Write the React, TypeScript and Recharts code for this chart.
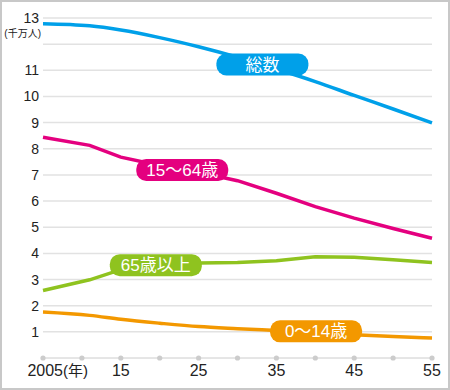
import React from 'react';
import { LineChart, Line, XAxis, YAxis, CartesianGrid, ReferenceDot } from 'recharts';

const years = [2005, 2011, 2015, 2020, 2025, 2030, 2035, 2040, 2045, 2050, 2055];
const total = [12.78, 12.7, 12.54, 12.25, 11.9, 11.5, 11.05, 10.57, 10.04, 9.52, 8.99];
const working = [8.44, 8.13, 7.68, 7.36, 7.1, 6.78, 6.3, 5.79, 5.35, 4.95, 4.58];
const elderly = [2.58, 2.99, 3.38, 3.59, 3.63, 3.65, 3.72, 3.87, 3.85, 3.76, 3.65];
const children = [1.76, 1.63, 1.48, 1.33, 1.2, 1.12, 1.05, 0.98, 0.89, 0.82, 0.76];

const xTicks = [2005, 2010, 2015, 2020, 2025, 2030, 2035, 2040, 2045, 2050, 2055];
const xTickLabels: Record<number, string> = { 2005: '2005', 2015: '15', 2025: '25', 2035: '35', 2045: '45', 2055: '55' };
const yTicks = [1, 2, 3, 4, 5, 6, 7, 8, 9, 10, 11, 12, 13];
const yUnit = '(千万人)';
const xUnit = '(年)';

const BLUE = '#00a0e9';
const PINK = '#e4007f';
const GREEN = '#8fc31f';
const ORANGE = '#f39800';

const seriesLabels = [
  { text: '総数', year: 2033.2, value: 11.22, color: BLUE },
  { text: '15〜64歳', year: 2022.9, value: 7.19, color: PINK },
  { text: '65歳以上', year: 2019.5, value: 3.55, color: GREEN },
  { text: '0〜14歳', year: 2040.1, value: 1.02, color: ORANGE },
];

const data = years.map((y, i) => ({
  year: y,
  total: total[i],
  working: working[i],
  elderly: elderly[i],
  children: children[i],
}));

const FONT = "'Liberation Sans', Arial, 'Noto Sans CJK JP', sans-serif";

const YTick = (props: any) => {
  const { x, y, payload } = props;
  const v = payload.value;
  if (v === 12) return <g />;
  return (
    <g>
      <text x={x} y={y + 5} textAnchor="end" fontSize={14} fill="#222" fontFamily={FONT}>
        {v}
      </text>
      {v === 13 && (
        <text x={x + 2} y={y + 19} textAnchor="end" fontSize={10} fill="#222" fontFamily={FONT}>
          {yUnit}
        </text>
      )}
    </g>
  );
};

const XTick = (props: any) => {
  const { x, y, payload } = props;
  const v = payload.value;
  const label = xTickLabels[v];
  return (
    <g>
      <circle cx={x} cy={y} r={2.6} fill="#cccccc" />
      {label && v === 2005 && (
        <>
          <text x={x + 20} y={y + 18} textAnchor="end" fontSize={16} fill="#222" fontFamily={FONT}>
            {label}
          </text>
          <text x={x + 20} y={y + 18} textAnchor="start" fontSize={15} fill="#222" fontFamily={FONT}>
            {xUnit}
          </text>
        </>
      )}
      {label && v !== 2005 && (
        <text x={x} y={y + 18} textAnchor="middle" fontSize={16} fill="#222" fontFamily={FONT}>
          {label}
        </text>
      )}
    </g>
  );
};

const makePill = (text: string, color: string) => (p: any) => {
  const { cx, cy } = p;
  const w = 92;
  const h = 22;
  return (
    <g>
      <rect x={cx - w / 2} y={cy - h / 2} width={w} height={h} rx={10} ry={10} fill={color} />
      <text x={cx} y={cy + 6} textAnchor="middle" fontSize={17} fill="#fff" fontFamily={FONT}>
        {text}
      </text>
    </g>
  );
};

export default function App() {
  return (
    <div style={{ position: 'absolute', left: 0, top: 0, width: 450, height: 390, background: '#fff' }}>
      <LineChart width={450} height={390} data={data} margin={{ top: 18, right: 18, bottom: 2, left: 0 }}>
        <CartesianGrid vertical={false} stroke="#e2e2e2" strokeWidth={1.5} />
        <XAxis
          dataKey="year"
          type="number"
          domain={[2005, 2055]}
          ticks={xTicks}
          tick={<XTick />}
          tickSize={0}
          tickMargin={0}
          height={30}
          axisLine={{ stroke: '#e2e2e2', strokeWidth: 1 }}
          tickLine={false}
          interval={0}
        />
        <YAxis
          type="number"
          domain={[0, 13]}
          ticks={yTicks}
          tick={<YTick />}
          tickSize={0}
          tickMargin={4}
          width={43}
          axisLine={false}
          tickLine={false}
          interval={0}
        />
        <Line type="monotone" dataKey="total" stroke={BLUE} strokeWidth={3.5} dot={false} isAnimationActive={false} />
        <Line type="linear" dataKey="working" stroke={PINK} strokeWidth={3.5} dot={false} isAnimationActive={false} />
        <Line type="linear" dataKey="elderly" stroke={GREEN} strokeWidth={3.5} dot={false} isAnimationActive={false} />
        <Line type="monotone" dataKey="children" stroke={ORANGE} strokeWidth={3.5} dot={false} isAnimationActive={false} />
        {seriesLabels.map((s) => (
          <ReferenceDot
            key={s.text}
            x={s.year}
            y={s.value}
            r={10}
            ifOverflow="visible"
            shape={makePill(s.text, s.color)}
          />
        ))}
      </LineChart>
      <div
        style={{
          position: 'absolute',
          left: 0,
          top: 0,
          width: 450,
          height: 390,
          boxSizing: 'border-box',
          border: '2px solid #c8c8c8',
          pointerEvents: 'none',
        }}
      />
    </div>
  );
}
